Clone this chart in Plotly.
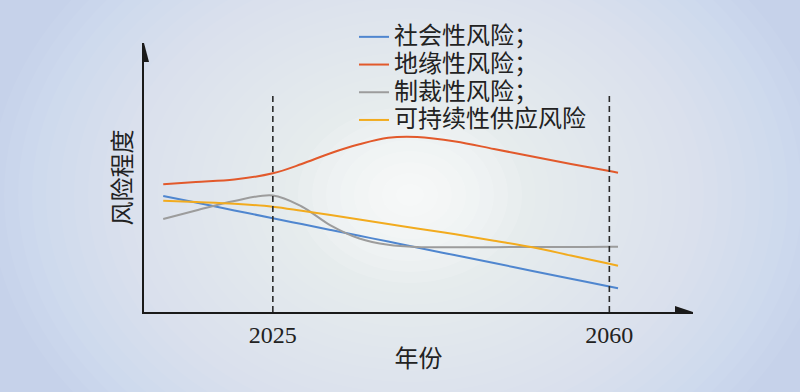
import plotly.graph_objects as go

# ---- data ----
years = [2013.6, 2017, 2021, 2025, 2028, 2031, 2034, 2037, 2040, 2044, 2048, 2052, 2056, 2060, 2060.9]
social_risk = [116, 109.4, 101.6, 93.8, 87.9, 82.1, 76.2, 70.4, 64.5, 56.7, 48.9, 41.1, 33.3, 25.5, 23.7]
geo_risk = [127.7, 130, 132.5, 138.7, 148, 158.8, 167.7, 174.2, 175, 170.5, 163, 155.5, 148, 141, 139.3]
sanction_risk = [93, 101.5, 111, 116.5, 105.5, 86.7, 73.5, 67.2, 65, 64.7, 64.8, 65, 65, 65.2, 65.3]
supply_risk = [111.3, 110, 108.3, 105.3, 101.2, 96.9, 92.4, 87.9, 83.6, 77.7, 71.3, 64.7, 56.5, 48.2, 46.3]

series_names = ["社会性风险；", "地缘性风险；", "制裁性风险；", "可持续性供应风险"]
series_values = [social_risk, geo_risk, sanction_risk, supply_risk]
series_colors = ["#4f86cf", "#e2592b", "#9c9c9c", "#f2ab1e"]

tick_years = [2025, 2060]
tick_labels = ["2025", "2060"]
marker_top = 219

x_range = [2011.6, 2068.7]
y_range = [0, 269]

fig = go.Figure()
for name, vals, col in zip(series_names, series_values, series_colors):
    fig.add_trace(go.Scatter(x=years, y=vals, mode="lines",
                             name='<span style="font-size:24px">' + name + '</span>',
                             line=dict(color=col, width=2, shape="spline", smoothing=1.0)))

shapes = []
# radial background gradient (stacked translucent ellipses), paper coords
pl, pr, pt, pb = 144, 693, 43, 312
pw, ph = pr - pl, pb - pt
cx, cy, rx, ry = 410, 195, 420, 330
N = 30
for k in range(N, 0, -1):
    f = k / N
    a = 0.05 if k > 8 else 0.15
    x0, x1 = cx - rx * f, cx + rx * f
    y0, y1 = cy - ry * f, cy + ry * f
    shapes.append(dict(type="circle", xref="paper", yref="paper", layer="below",
                       x0=(x0 - pl) / pw, x1=(x1 - pl) / pw,
                       y0=(pb - y1) / ph, y1=(pb - y0) / ph,
                       fillcolor="rgba(255,255,255,%.3f)" % a, line=dict(width=0)))
# dashed reference lines
for yr in tick_years:
    shapes.append(dict(type="line", xref="x", yref="y", x0=yr, x1=yr, y0=0, y1=marker_top,
                       line=dict(color="#2a2a2a", width=1.6, dash="6px,4px")))
# arrow heads
shapes.append(dict(type="path", xref="x", yref="y", xsizemode="pixel", ysizemode="pixel",
                   xanchor=x_range[1], yanchor=0, path="M0,0 L-18,6 L-18,-6 Z",
                   fillcolor="#1a1a1a", line=dict(width=0)))
shapes.append(dict(type="path", xref="x", yref="y", xsizemode="pixel", ysizemode="pixel",
                   xanchor=x_range[0], yanchor=y_range[1], path="M0,0 L-5,-19 L5,-19 Z",
                   fillcolor="#1a1a1a", line=dict(width=0)))

cjk = "Liberation Serif, Noto Sans CJK SC"
fig.update_layout(
    width=800, height=392, autosize=False,
    margin=dict(l=pl, r=800 - pr, t=pt, b=392 - pb),
    paper_bgcolor="#c6d2ea", plot_bgcolor="rgba(0,0,0,0)",
    shapes=shapes,
    xaxis=dict(range=x_range, showline=True, linecolor="#1a1a1a", linewidth=1.5,
               showgrid=False, zeroline=False, tickvals=tick_years, ticktext=tick_labels,
               ticks="", tickfont=dict(family="Liberation Serif", size=24, color="#222"),
               title=dict(text="年份", font=dict(family=cjk, size=24, color="#222"), standoff=4)),
    yaxis=dict(range=y_range, showline=True, linecolor="#1a1a1a", linewidth=1.5,
               showgrid=False, zeroline=False, showticklabels=False, ticks="",
               title=dict(text="风险程度", font=dict(family=cjk, size=24, color="#222"), standoff=4)),
    legend=dict(x=(354 - pl) / pw, y=(pb - 18) / ph, xanchor="left", yanchor="top",
                bgcolor="rgba(0,0,0,0)", font=dict(family=cjk, size=19, color="#222"),
                tracegroupgap=0),
)

fig.write_html("out.html", config={"displayModeBar": False},
               post_script="document.body.style.margin='0';document.body.style.overflow='hidden';")
